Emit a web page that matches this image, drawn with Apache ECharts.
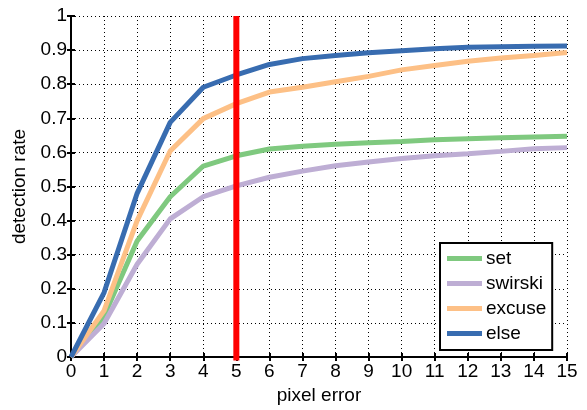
<!DOCTYPE html>
<html><head><meta charset="utf-8">
<script src="https://cdn.jsdelivr.net/npm/echarts@6/dist/echarts.min.js"></script>
<style>html,body{margin:0;padding:0;background:#fff}#c{width:587px;height:410px}</style>
</head><body><div id="c"></div>
<script>
const xCategories = [0,1,2,3,4,5,6,7,8,9,10,11,12,13,14,15];
const yTicks = [0,0.1,0.2,0.3,0.4,0.5,0.6,0.7,0.8,0.9,1];
const setValues     = [0,0.12,0.34,0.47,0.56,0.59,0.61,0.618,0.624,0.628,0.632,0.637,0.64,0.643,0.645,0.647];
const swirskiValues = [0,0.098,0.272,0.405,0.47,0.502,0.527,0.545,0.561,0.572,0.582,0.59,0.596,0.603,0.611,0.614];
const excuseValues  = [0,0.136,0.40,0.604,0.699,0.743,0.777,0.791,0.807,0.823,0.842,0.855,0.867,0.877,0.884,0.893];
const elseValues    = [0,0.189,0.48,0.688,0.791,0.827,0.858,0.875,0.884,0.892,0.898,0.904,0.908,0.910,0.911,0.912];
const markerX = 5;
const markerY = [-0.01, 1];
const seriesNames = ['set','swirski','excuse','else'];
const seriesColors = ['#7fc97f','#beaed4','#fdc086','#386cb0'];
const allValues = [setValues, swirskiValues, excuseValues, elseValues];

const font = "'Liberation Sans', Arial, sans-serif";
const fs = 19;
const chart = echarts.init(document.getElementById('c'));
const series = allValues.map((vals, i) => ({
  name: seriesNames[i], type: 'line', xAxisIndex: 0, yAxisIndex: 0,
  data: xCategories.map((x, j) => [x, vals[j]]),
  symbol: 'none', lineStyle: {width: 5, color: seriesColors[i]}, itemStyle: {color: seriesColors[i]},
  z: 3 + i
}));
series.push({
  name: 'marker', type: 'line', xAxisIndex: 0, yAxisIndex: 0, z: 10, clip: false,
  data: markerY.map(y => [markerX, y]),
  symbol: 'none', lineStyle: {width: 6, color: '#ff0000', cap: 'butt'}, itemStyle: {color: '#ff0000'}
});
const tickStyle = {show: true, inside: true, length: 4, lineStyle: {color: '#000', width: 2}};
chart.setOption({
  animation: false,
  grid: {left: 71, right: 20, top: 16, bottom: 48, show: false},
  legend: {
    data: seriesNames, orient: 'vertical', left: 440, top: 243,
    backgroundColor: '#fff', borderColor: '#000', borderWidth: 2, borderRadius: 0,
    padding: [6, 6, 7, 7], itemGap: 6, itemWidth: 35, itemHeight: 5, icon: 'rect',
    textStyle: {fontFamily: font, fontSize: fs, color: '#000', padding: [0,0,0,-1]}
  },
  xAxis: [{
    type: 'value', min: 0, max: 15, interval: 1,
    name: 'pixel error', nameLocation: 'middle', nameGap: 29,
    nameTextStyle: {fontFamily: font, fontSize: fs, color: '#000'},
    axisLine: {show: true, onZero: false, lineStyle: {color: '#000', width: 2}},
    axisTick: tickStyle,
    axisLabel: {fontFamily: font, fontSize: fs, color: '#000', margin: 5},
    splitLine: {show: true, lineStyle: {color: '#000', width: 1, type: [1, 3]}}
  }, {
    type: 'value', position: 'top', min: 0, max: 15, interval: 1,
    axisLine: {show: true, lineStyle: {color: '#000', width: 2}},
    axisTick: tickStyle, axisLabel: {show: false}, splitLine: {show: false}
  }],
  yAxis: [{
    type: 'value', min: 0, max: 1, interval: 0.1,
    name: 'detection rate', nameLocation: 'middle', nameGap: 37,
    nameTextStyle: {fontFamily: font, fontSize: fs, color: '#000'},
    axisLine: {show: true, onZero: false, lineStyle: {color: '#000', width: 2}},
    axisTick: tickStyle,
    axisLabel: {fontFamily: font, fontSize: fs, color: '#000', margin: 4,
      formatter: v => { const t = yTicks.find(y => Math.abs(y - v) < 1e-6); return t === undefined ? '' : String(t); }},
    splitLine: {show: true, lineStyle: {color: '#000', width: 1, type: [1, 3]}}
  }, {
    type: 'value', position: 'right', min: 0, max: 1, interval: 0.1,
    axisLine: {show: true, lineStyle: {color: '#000', width: 2}},
    axisTick: tickStyle, axisLabel: {show: false}, splitLine: {show: false}
  }],
  series: series
});
</script></body></html>
